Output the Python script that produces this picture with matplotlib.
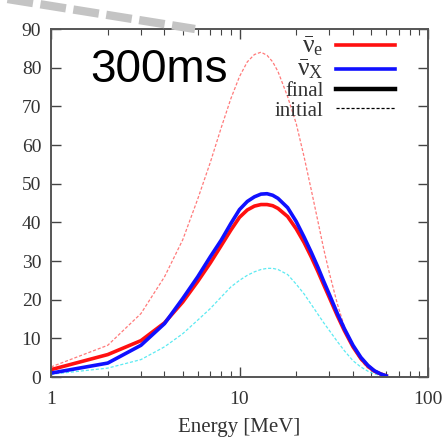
import matplotlib
matplotlib.use("Agg")
import matplotlib.pyplot as plt
from matplotlib.lines import Line2D
from matplotlib.ticker import FixedLocator, NullFormatter
import numpy as np

plt.rcParams["font.family"] = ["Liberation Serif", "DejaVu Serif"]
plt.rcParams["mathtext.fontset"] = "custom"
plt.rcParams["mathtext.rm"] = "Liberation Serif"
plt.rcParams["mathtext.it"] = "Liberation Serif"
plt.rcParams["mathtext.bf"] = "Liberation Serif:bold"

# Energy grid [MeV]
energy = [1, 2, 3, 4, 5, 6, 7, 8, 9, 10, 11, 12, 13, 14, 15, 16, 18, 20,
          22, 24, 26, 28, 30, 33, 36, 40, 44, 48, 52, 56, 60]

# final spectra
nue_final = [1.9, 5.8, 9.4, 14.0, 19.4, 24.7, 29.5, 34.0, 38.0, 41.3, 43.2, 44.2,
             44.6, 44.6, 44.3, 43.6, 41.5, 38.3, 34.8, 31.1, 27.4, 23.8, 20.5,
             15.9, 12.0, 7.8, 4.8, 2.8, 1.5, 0.8, 0.3]
nux_final = [1.0, 3.6, 8.2, 13.8, 20.3, 25.9, 31.1, 35.4, 39.7, 43.3, 45.4, 46.6,
             47.3, 47.4, 47.0, 46.2, 43.8, 40.2, 36.2, 32.3, 28.5, 24.7, 21.3,
             16.5, 12.5, 8.2, 5.1, 3.0, 1.6, 0.8, 0.3]

# initial spectra
nue_initial = [2.6, 8.2, 16.4, 25.9, 35.5, 46.0, 55.5, 64.5, 72.0, 77.7, 81.5, 83.4,
               84.0, 83.2, 81.5, 79.0, 72.5, 65.5, 57.0, 48.5, 40.5, 33.0, 26.8,
               19.0, 13.0, 7.6, 4.3, 2.3, 1.2, 0.6, 0.2]
nux_initial = [0.7, 2.3, 4.5, 7.8, 11.2, 14.7, 17.7, 20.7, 23.3, 25.0, 26.3, 27.2,
               27.8, 28.1, 28.1, 27.8, 26.5, 24.0, 21.5, 18.8, 16.3, 14.0, 12.0,
               9.2, 6.8, 4.2, 2.6, 1.5, 0.8, 0.4, 0.1]

y_ticks = [0, 10, 20, 30, 40, 50, 60, 70, 80, 90]
x_ticks = [1, 10, 100]
x_ticklabels = ["1", "10", "100"]

legend_labels = [r"$\bar{\nu}_{\mathrm{e}}$", r"$\bar{\nu}_{\mathrm{X}}$", "final", "initial"]

fig = plt.figure(figsize=(4.46, 4.42), dpi=100)
ax = fig.add_axes([51 / 446, 65 / 442, 377 / 446, 348 / 442])

ax.plot(energy, nue_initial, color="#ff7a7a", lw=0.9, ls=(0, (2.5, 1.5)))
ax.plot(energy, nux_initial, color="#5ceaf2", lw=0.9, ls=(0, (2.5, 1.5)))
ax.plot(energy, nue_final, color="#ff1010", lw=2.6)
ax.plot(energy, nux_final, color="#1010ff", lw=2.6)

ax.set_xscale("log")
ax.set_xlim(1, 100)
ax.set_ylim(0, 90)
ax.set_xticks(x_ticks)
ax.set_xticklabels(x_ticklabels)
ax.xaxis.set_minor_locator(FixedLocator(
    [m * d for d in (1, 10) for m in range(2, 10)]))
ax.xaxis.set_minor_formatter(NullFormatter())
ax.set_yticks(y_ticks)

ax.tick_params(which="both", direction="in", top=True, right=True,
               color="#444444", labelsize=14, labelcolor="#333333")
ax.tick_params(which="major", length=7, width=1.0)
ax.tick_params(which="minor", length=4, width=0.8)
ax.tick_params(axis="x", pad=10)
ax.tick_params(axis="y", pad=7)
for s in ax.spines.values():
    s.set_color("#555555")
    s.set_linewidth(1.4)

ax.set_xlabel("Energy [MeV]", fontsize=15, color="#333333", labelpad=7)

ax.text(0.103, 0.882, "300ms", transform=ax.transAxes, fontsize=33,
        family="Liberation Sans", ha="left", va="center", color="black")

handles = [Line2D([], [], color="#ff1010", lw=2.6),
           Line2D([], [], color="#1010ff", lw=2.6),
           Line2D([], [], color="black", lw=3.2),
           Line2D([], [], color="black", lw=0.9, ls=(0, (2.5, 1.5)))]
leg = ax.legend(handles, legend_labels, loc="upper right", frameon=False,
                markerfirst=False, fontsize=15, handlelength=2.85,
                handletextpad=0.6, labelspacing=0.0, borderaxespad=0.0,
                bbox_to_anchor=(0.935, 1.01))
for i, t in enumerate(leg.get_texts()):
    t.set_color("#333333")
    if i < 2:
        t.set_fontsize(18.5)

# thick grey dashed pointer running off the upper-left corner
fig.add_artist(Line2D([-5 / 446, 195 / 446], [1 + 3 / 442, 1 - 29 / 442],
                      transform=fig.transFigure, color="#c4c4c4", lw=6,
                      ls=(0, (3.1, 0.9)), solid_capstyle="butt",
                      dash_capstyle="butt"))

fig.savefig("out.png", dpi=100)
